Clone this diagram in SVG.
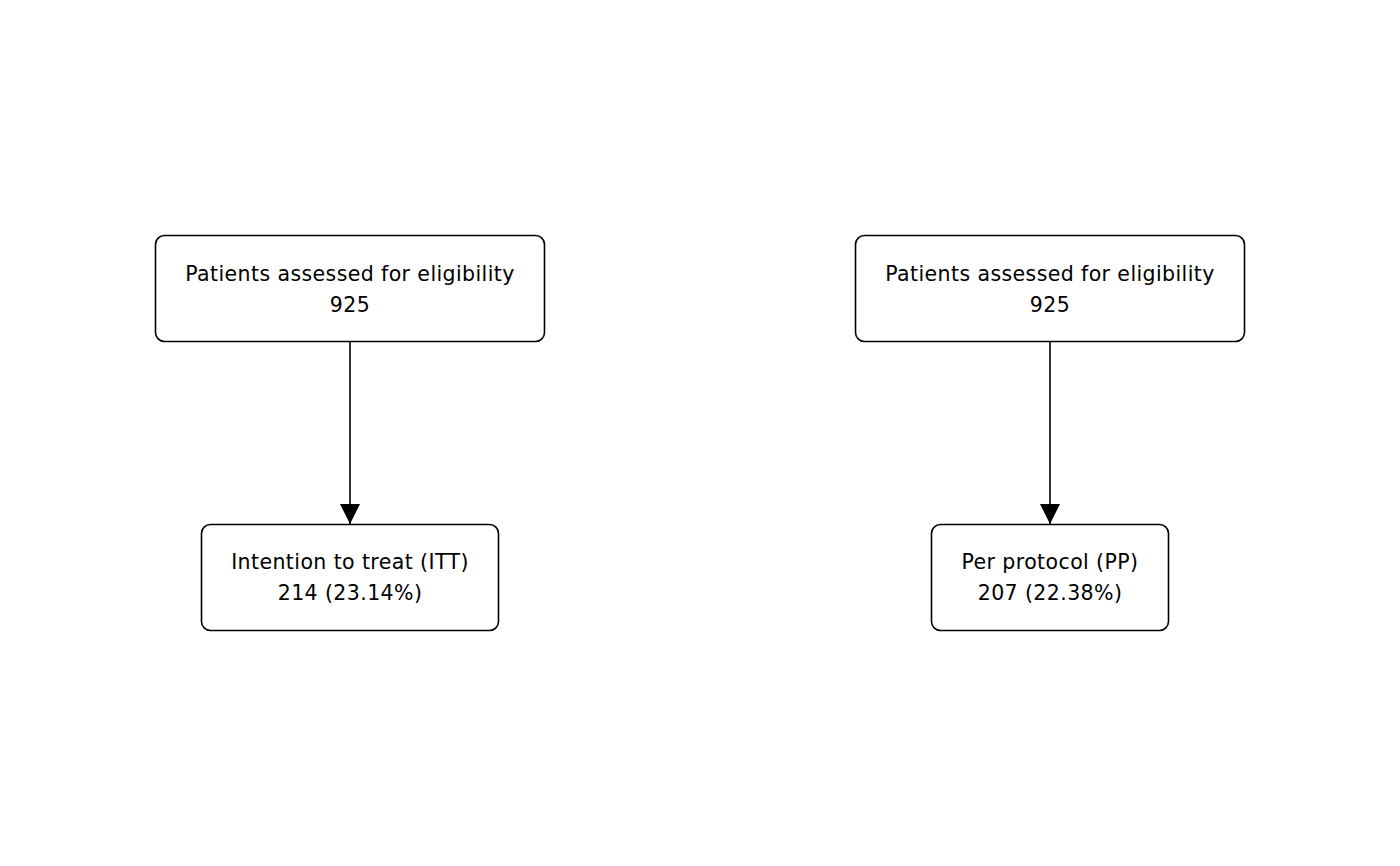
<svg xmlns="http://www.w3.org/2000/svg" width="1400" height="866" viewBox="0 0 1400 866">
<style>
.box{fill:#fff;stroke:#000;stroke-width:1.6}
.t{font-family:"DejaVu Sans",sans-serif;font-size:20.5px;letter-spacing:0.4px;fill:#000;text-anchor:middle}
.c{stroke:#000;stroke-width:1.6;fill:none}
</style>
<defs>
<marker id="ah" markerUnits="userSpaceOnUse" markerWidth="22" markerHeight="20" refX="20" refY="10" orient="auto">
<path d="M0,0 L20,10 L0,20 Z" fill="#000"/>
</marker>
</defs>
<rect width="1400" height="866" fill="#fff"/>
<g id="connectors">
<line class="c" x1="350" y1="342" x2="350" y2="524" marker-end="url(#ah)"/>
<line class="c" x1="1050" y1="342" x2="1050" y2="524" marker-end="url(#ah)"/>
</g>
<g id="n1">
<rect class="box" x="155.5" y="235.5" width="389" height="106" rx="9"/>
<text class="t" x="350" y="281">Patients assessed for eligibility</text>
<text class="t" x="350" y="312">925</text>
</g>
<g id="n2">
<rect class="box" x="201.5" y="524.5" width="297" height="106" rx="9"/>
<text class="t" x="350" y="569">Intention to treat (ITT)</text>
<text class="t" x="350" y="600">214 (23.14%)</text>
</g>
<g id="n3">
<rect class="box" x="855.5" y="235.5" width="389" height="106" rx="9"/>
<text class="t" x="1050" y="281">Patients assessed for eligibility</text>
<text class="t" x="1050" y="312">925</text>
</g>
<g id="n4">
<rect class="box" x="931.5" y="524.5" width="237" height="106" rx="9"/>
<text class="t" x="1050" y="569">Per protocol (PP)</text>
<text class="t" x="1050" y="600">207 (22.38%)</text>
</g>
</svg>
